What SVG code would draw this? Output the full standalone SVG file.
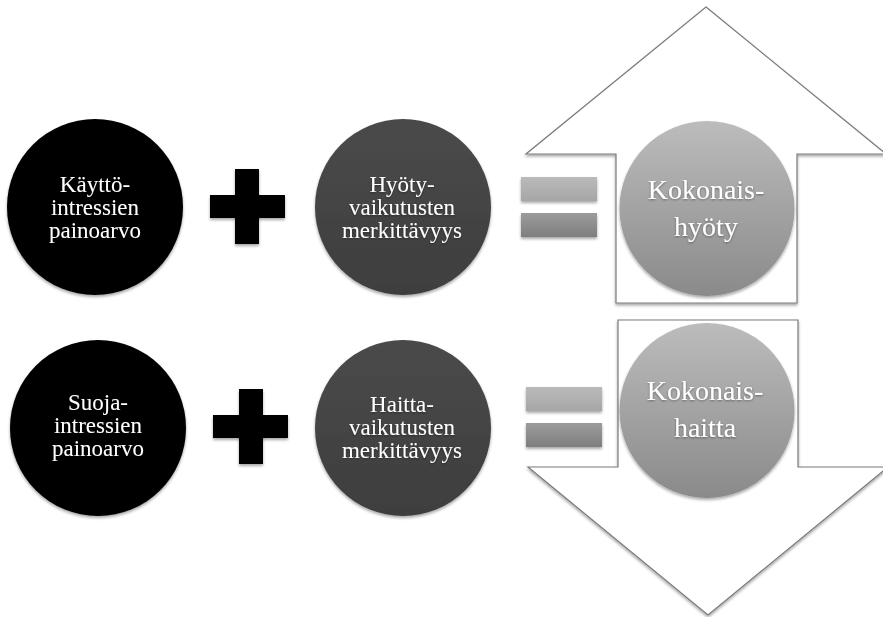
<svg xmlns="http://www.w3.org/2000/svg" width="883" height="617" viewBox="0 0 883 617">
  <defs>
    <filter id="shadow" x="-20%" y="-20%" width="140%" height="150%">
      <feGaussianBlur in="SourceAlpha" stdDeviation="1.6"/>
      <feOffset dx="0" dy="2" result="b"/>
      <feComponentTransfer><feFuncA type="linear" slope="0.35"/></feComponentTransfer>
      <feMerge><feMergeNode/><feMergeNode in="SourceGraphic"/></feMerge>
    </filter>
    <filter id="textShadow" x="-10%" y="-10%" width="120%" height="130%">
      <feGaussianBlur in="SourceAlpha" stdDeviation="0.8"/>
      <feOffset dx="0" dy="1" result="b"/>
      <feComponentTransfer><feFuncA type="linear" slope="0.4"/></feComponentTransfer>
      <feMerge><feMergeNode/><feMergeNode in="SourceGraphic"/></feMerge>
    </filter>
    <linearGradient id="totalGrad" x1="0" y1="0" x2="0" y2="1">
      <stop offset="0" stop-color="#bcbcbc"/>
      <stop offset="1" stop-color="#8a8a8a"/>
    </linearGradient>
    <linearGradient id="barLight" x1="0" y1="0" x2="0" y2="1">
      <stop offset="0" stop-color="#bababa"/>
      <stop offset="1" stop-color="#a6a6a6"/>
    </linearGradient>
    <linearGradient id="barDark" x1="0" y1="0" x2="0" y2="1">
      <stop offset="0" stop-color="#9c9c9c"/>
      <stop offset="1" stop-color="#7e7e7e"/>
    </linearGradient>
    <linearGradient id="darkGrad" x1="0" y1="0" x2="0" y2="1">
      <stop offset="0" stop-color="#4a4a4a"/>
      <stop offset="1" stop-color="#3e3e3e"/>
    </linearGradient>
  </defs>
  <style>
    .arrow { fill: #ffffff; stroke: #7a7a7a; stroke-width: 1.2; stroke-linejoin: miter; }
    .label { font-family: "Liberation Serif", "DejaVu Serif", serif; fill: #ffffff; text-anchor: middle; filter: url(#textShadow); }
    .small { font-size: 23px; }
    .big { font-size: 28px; }
    .plus { fill: #000000; filter: url(#shadow); }
  </style>
  <rect x="0" y="0" width="883" height="617" fill="#ffffff"/>

  <!-- big outline arrows behind the totals -->
  <g id="connectors">
    <polygon id="arrow-up" class="arrow" points="706,7 886,154 797,154 797,303 616,303 616,154 526,154" filter="url(#shadow)"/>
    <polygon id="arrow-down" class="arrow" points="618,320 798,320 798,467 888,467 708,615 528,467 618,467" filter="url(#shadow)"/>
  </g>

  <!-- row 1: benefit -->
  <g id="kaytto">
    <circle cx="95" cy="207" r="88" fill="#000000" filter="url(#shadow)"/>
    <text class="label small" x="95" y="192">Käyttö-</text>
    <text class="label small" x="95" y="215">intressien</text>
    <text class="label small" x="95" y="238">painoarvo</text>
  </g>
  <g id="plus-1">
    <rect class="plus" x="210" y="195" width="75" height="23"/>
    <rect class="plus" x="235" y="169" width="24" height="75"/>
    <rect x="210" y="195" width="75" height="23" fill="#000"/>
  </g>
  <g id="hyotyvaikutukset">
    <circle cx="403" cy="207" r="88" fill="url(#darkGrad)" filter="url(#shadow)"/>
    <text class="label small" x="402" y="192">Hyöty-</text>
    <text class="label small" x="402" y="215">vaikutusten</text>
    <text class="label small" x="402" y="238">merkittävyys</text>
  </g>
  <g id="equals-1">
    <rect x="521" y="177" width="76" height="24" fill="url(#barLight)" filter="url(#shadow)"/>
    <rect x="521" y="213" width="76" height="24" fill="url(#barDark)" filter="url(#shadow)"/>
  </g>
  <g id="kokonaishyoty">
    <circle cx="707" cy="208.5" r="87.5" fill="url(#totalGrad)" filter="url(#shadow)"/>
    <text class="label big" x="706" y="199">Kokonais-</text>
    <text class="label big" x="706" y="236">hyöty</text>
  </g>

  <!-- row 2: harm -->
  <g id="suoja">
    <circle cx="98" cy="428" r="88" fill="#000000" filter="url(#shadow)"/>
    <text class="label small" x="98" y="410">Suoja-</text>
    <text class="label small" x="98" y="433">intressien</text>
    <text class="label small" x="98" y="456">painoarvo</text>
  </g>
  <g id="plus-2">
    <rect class="plus" x="213" y="415" width="75" height="23"/>
    <rect class="plus" x="239" y="389" width="24" height="75"/>
    <rect x="213" y="415" width="75" height="23" fill="#000"/>
  </g>
  <g id="haittavaikutukset">
    <circle cx="403" cy="428" r="88" fill="url(#darkGrad)" filter="url(#shadow)"/>
    <text class="label small" x="402" y="412">Haitta-</text>
    <text class="label small" x="402" y="435">vaikutusten</text>
    <text class="label small" x="402" y="458">merkittävyys</text>
  </g>
  <g id="equals-2">
    <rect x="526" y="387" width="76" height="24" fill="url(#barLight)" filter="url(#shadow)"/>
    <rect x="526" y="423" width="76" height="24" fill="url(#barDark)" filter="url(#shadow)"/>
  </g>
  <g id="kokonaishaitta">
    <circle cx="707" cy="410.5" r="87.5" fill="url(#totalGrad)" filter="url(#shadow)"/>
    <text class="label big" x="705" y="400">Kokonais-</text>
    <text class="label big" x="705" y="437">haitta</text>
  </g>
</svg>
